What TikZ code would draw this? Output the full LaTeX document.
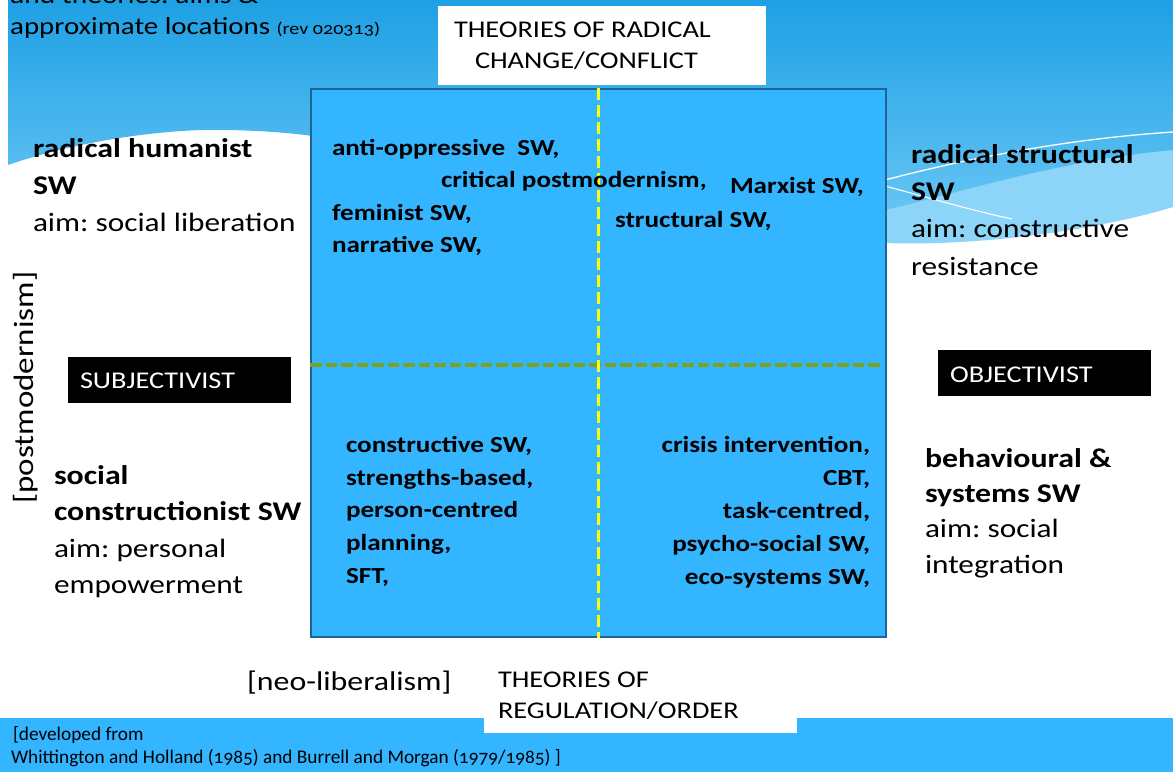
\documentclass[tikz,border=0pt]{standalone}
\usepackage{fontspec}
\setmainfont{Carlito}[FakeStretch=1.18, Numbers=OldStyle]
\newfontfamily\plainfont{Carlito}[Numbers=OldStyle]
\newcommand\fsz[1]{\fontsize{#1}{#1}\selectfont}
\frenchspacing
\definecolor{skytop}{RGB}{30,160,228}
\definecolor{skybot}{RGB}{100,196,244}
\definecolor{skylight}{RGB}{140,212,248}
\definecolor{boxblue}{RGB}{51,181,255}
\definecolor{boxedge}{RGB}{30,100,150}
\definecolor{olivedash}{RGB}{128,160,32}
\definecolor{yellowdash}{RGB}{255,255,0}
\tikzset{
  lbl/.style={inner sep=0pt, outer sep=0pt, anchor=base west, font=\fsz{26.5}},
  lblb/.style={lbl, font=\fsz{27}\bfseries},
  inb/.style={inner sep=0pt, outer sep=0pt, anchor=base west, font=\fsz{23}\bfseries},
  inbr/.style={inb, anchor=base east},
  capt/.style={inner sep=0pt, outer sep=0pt, anchor=base west, font=\fsz{24}},
  boxtxt/.style={capt, text=white},
  blackbox/.style={fill=black, draw=none, inner sep=0pt, anchor=north west},
  whitebox/.style={fill=white, draw=none, inner sep=0pt, anchor=north west},
  bandtxt/.style={inner sep=0pt, outer sep=0pt, anchor=base west, font=\plainfont\fsz{19.3}},
}
\begin{document}
\begin{tikzpicture}[x=1pt,y=-1pt]
\useasboundingbox (0,0) rectangle (1173,772);
\clip (0,0) rectangle (1173,772);
\fill[white] (0,0) rectangle (1173,772);
% light wave band (right)
\fill[skylight] (600,0) -- (1173,0) -- (1173,207) .. controls (1080,235) and (960,246) .. (885,243) -- (600,243) -- cycle;
% gradient sky
\shade[top color=skytop, bottom color=skybot] (8,0) -- (1173,0) -- (1173,150) .. controls (1060,160) and (950,195) .. (885,210) -- (330,210) -- (312,136) .. controls (300,134) and (270,131) .. (230,130) .. controls (170,128) and (80,140) .. (8,165) -- cycle;
% thin white wave lines
\draw[white, line width=1.3pt] (885,180) .. controls (980,155) and (1080,138) .. (1173,132);
\draw[white, line width=1.1pt] (885,186) .. controls (930,198) and (970,210) .. (1012,219);
% bottom band
\fill[boxblue] (0,718) rectangle (1173,772);

% title (cut off at top, as in the reference)
\node[inner sep=0pt, anchor=base west, font=\fsz{25}] (title1) at (10,3) {and theories: aims \&};
\node[inner sep=0pt, anchor=base west, font=\fsz{24.5}] (title2) at (10,34) {approximate locations {\fsz{17}(rev 020313)}};

% top white caption box
\node[whitebox, minimum width=328pt, minimum height=79pt] (topbox) at (438,6) {};
\node[capt] (rad1) at (454,37.5) {THEORIES OF RADICAL};
\node[capt] (rad2) at (475,68.5) {CHANGE/CONFLICT};

% main grid
\node[draw=boxedge, fill=boxblue, line width=2pt, minimum width=575pt, minimum height=548pt, inner sep=0pt, anchor=north west] (grid) at (310,88) {};
\draw[olivedash, line width=4pt, dash pattern=on 11.5pt off 4pt] ([yshift=-2pt]grid.west) -- ([xshift=-5pt,yshift=-2pt]grid.east);
\draw[yellowdash, line width=3pt, dash pattern=on 12pt off 5pt] (grid.north) -- (grid.south);

% quadrant texts
\node[inb] (q1a) at (332,155) {anti-oppressive\ \ SW,};
\node[inb] (q1b) at (441,187) {critical postmodernism,};
\node[inb] (q2a) at (730,193) {Marxist SW,};
\node[inb] (q1c) at (332,220) {feminist SW,};
\node[inb] (q2b) at (615,227) {structural SW,};
\node[inb] (q1d) at (332,252) {narrative SW,};

\node[inb] (q3a) at (346,452) {constructive SW,};
\node[inb] (q3b) at (346,485) {strengths-based,};
\node[inb] (q3c) at (346,517) {person-centred};
\node[inb] (q3d) at (346,550) {planning,};
\node[inb] (q3e) at (346,583) {SFT,};

\node[inbr] (q4a) at (870,452) {crisis intervention,};
\node[inbr] (q4b) at (870,485) {CBT,};
\node[inbr] (q4c) at (870,518) {task-centred,};
\node[inbr] (q4d) at (870,551) {psycho-social SW,};
\node[inbr] (q4e) at (870,584) {eco-systems SW,};

% left labels
\node[lblb] (rh1) at (33,157) {radical humanist};
\node[lblb] (rh2) at (33,194) {SW};
\node[lbl] (rh3) at (33,231) {aim: social liberation};
\node[inner sep=0pt, anchor=base west, rotate=90, font=\fsz{28}] (pm) at (33,504) {[postmodernism]};
\node[blackbox, minimum width=223pt, minimum height=46pt] (subjbox) at (68,357) {};
\node[boxtxt] (subj) at (80,388) {SUBJECTIVIST};
\node[lblb] (sc1) at (54,484) {social};
\node[lblb] (sc2) at (54,520) {constructionist SW};
\node[lbl] (sc3) at (54,557) {aim: personal};
\node[lbl] (sc4) at (54,593) {empowerment};

% right labels
\node[lblb] (rs1) at (911,163) {radical structural};
\node[lblb] (rs2) at (911,200) {SW};
\node[lbl] (rs3) at (911,237) {aim: constructive};
\node[lbl] (rs4) at (911,275) {resistance};
\node[blackbox, minimum width=213pt, minimum height=46pt] (objbox) at (938,350) {};
\node[boxtxt] (obj) at (950,382) {OBJECTIVIST};
\node[lblb] (bs1) at (925,467) {behavioural \&};
\node[lblb] (bs2) at (925,502) {systems SW};
\node[lbl] (bs3) at (925,537) {aim: social};
\node[lbl] (bs4) at (925,573) {integration};

% bottom
\node[inner sep=0pt, anchor=base west, font=\fsz{27}] (neo) at (247,690) {[neo-liberalism]};
\node[whitebox, minimum width=313pt, minimum height=78pt] (botbox) at (484,655) {};
\node[capt] (reg1) at (498,687) {THEORIES OF};
\node[capt] (reg2) at (498,718) {REGULATION/ORDER};
\node[bandtxt] (dev1) at (13,740) {[developed from};
\node[bandtxt] (dev2) at (11,763) {Whittington and Holland (1985) and Burrell and Morgan (1979/1985) ]};
\end{tikzpicture}
\end{document}
